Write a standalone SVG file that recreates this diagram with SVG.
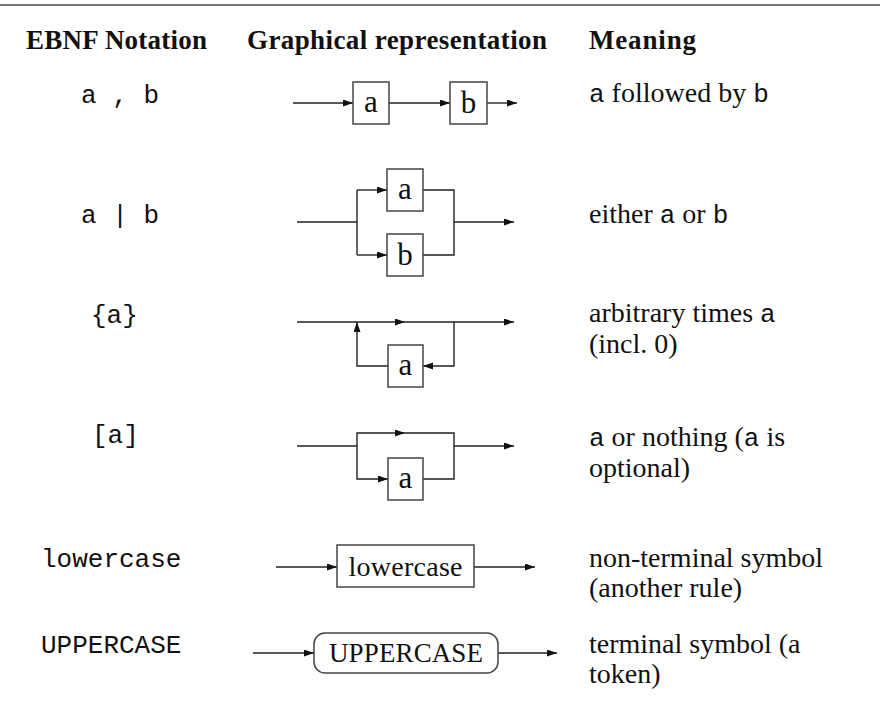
<svg xmlns="http://www.w3.org/2000/svg" width="880" height="706" viewBox="0 0 880 706">
<style>
.h{font-family:"Liberation Serif",serif;font-weight:bold;font-size:27px;fill:#111}
.s{font-family:"Liberation Serif",serif;font-size:28px;fill:#111}
.m{font-family:"Liberation Mono",monospace;font-size:26px;fill:#111}
.bl{font-family:"Liberation Serif",serif;font-size:31px;fill:#111;text-anchor:middle}
.box{fill:#fff;stroke:#444;stroke-width:1.5}
.ln{fill:none;stroke:#222;stroke-width:1.4}
.ar{marker-end:url(#ah)}
</style>
<defs>
<marker id="ah" markerUnits="userSpaceOnUse" markerWidth="11" markerHeight="8" refX="10" refY="3.5" orient="auto"><path d="M0,0 L10,3.5 L0,7 z" fill="#111"/></marker>
</defs>
<rect width="880" height="706" fill="#fff"/>
<line x1="0" y1="5" x2="880" y2="5" stroke="#777" stroke-width="2"/>
<g id="headers">
<text class="h" x="26" y="49" textLength="181">EBNF Notation</text>
<text class="h" x="247" y="49" textLength="300">Graphical representation</text>
<text class="h" x="589" y="49" textLength="107">Meaning</text>
</g>
<g id="notation">
<text class="m" x="81" y="103" xml:space="preserve">a , b</text>
<text class="m" x="81" y="223" xml:space="preserve">a | b</text>
<text class="m" x="91" y="323">{a}</text>
<text class="m" x="92" y="443">[a]</text>
<text class="m" x="41" y="567">lowercase</text>
<text class="m" x="41" y="653">UPPERCASE</text>
</g>
<g id="meaning">
<text class="s" x="589" y="102"><tspan class="m">a</tspan> followed by <tspan class="m">b</tspan></text>
<text class="s" x="589" y="223">either <tspan class="m">a</tspan> or <tspan class="m">b</tspan></text>
<text class="s" x="589" y="322">arbitrary times <tspan class="m">a</tspan></text>
<text class="s" x="589" y="353">(incl. 0)</text>
<text class="s" x="589" y="446"><tspan class="m">a</tspan> or nothing (<tspan class="m">a</tspan> is</text>
<text class="s" x="589" y="477">optional)</text>
<text class="s" x="589" y="567">non-terminal symbol</text>
<text class="s" x="589" y="597">(another rule)</text>
<text class="s" x="589" y="653">terminal symbol (a</text>
<text class="s" x="589" y="683">token)</text>
</g>
<g id="connectors">
<path class="ln ar" d="M293,103 H353"/>
<path class="ln ar" d="M389,103 H450"/>
<path class="ln ar" d="M487,103 H517"/>
<path class="ln" d="M297,222 H357 M357,190 V255"/>
<path class="ln ar" d="M357,190 H387"/>
<path class="ln ar" d="M357,255 H387"/>
<path class="ln" d="M423,190 H454 V255 H423"/>
<path class="ln ar" d="M454,222 H514"/>
<path class="ln ar" d="M297,322 H405"/>
<path class="ln ar" d="M405,322 H514"/>
<path class="ln ar" d="M388,366 H357 V322"/>
<path class="ln ar" d="M454,322 V366 H423"/>
<path class="ln" d="M297,446 H357"/>
<path class="ln ar" d="M357,446 V433 H405"/>
<path class="ln" d="M405,433 H454 V479 H423"/>
<path class="ln ar" d="M357,446 V479 H388"/>
<path class="ln ar" d="M454,446 H514"/>
<path class="ln ar" d="M276,567 H337"/>
<path class="ln ar" d="M474,567 H535"/>
<path class="ln ar" d="M253,653 H314"/>
<path class="ln ar" d="M498,653 H557"/>
</g>
<g id="seq-a"><rect class="box" x="353" y="82" width="36" height="42"/><text class="bl" x="371" y="112">a</text></g>
<g id="seq-b"><rect class="box" x="450" y="82" width="37" height="42"/><text class="bl" x="468.5" y="113">b</text></g>
<g id="alt-a"><rect class="box" x="387" y="169" width="36" height="42"/><text class="bl" x="405" y="199">a</text></g>
<g id="alt-b"><rect class="box" x="387" y="234" width="36" height="42"/><text class="bl" x="405" y="265">b</text></g>
<g id="rep-a"><rect class="box" x="388" y="345" width="35" height="42"/><text class="bl" x="405.5" y="375">a</text></g>
<g id="opt-a"><rect class="box" x="388" y="458" width="35" height="42"/><text class="bl" x="405.5" y="488">a</text></g>
<g id="nonterminal"><rect class="box" x="337" y="545" width="137" height="42"/><text class="bl" x="405.5" y="576" style="font-size:28px" textLength="114">lowercase</text></g>
<g id="terminal"><rect class="box" x="314" y="633" width="184" height="40" rx="11"/><text class="bl" x="406" y="662" style="font-size:27px" textLength="154">UPPERCASE</text></g>
</svg>
